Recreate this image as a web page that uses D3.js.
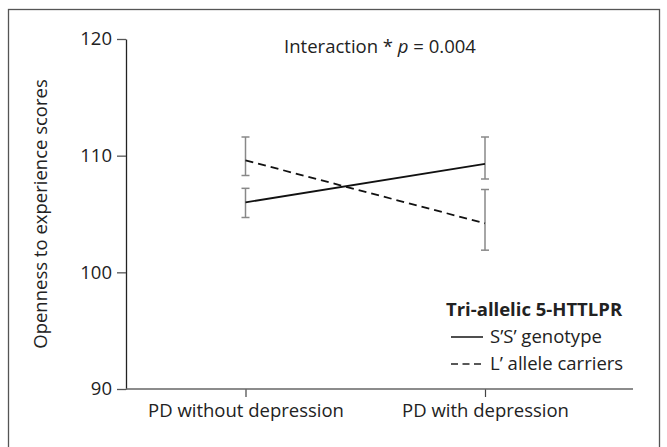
<!DOCTYPE html>
<html>
<head>
<meta charset="utf-8">
<script src="https://cdn.jsdelivr.net/npm/d3@7"></script>
<style>
  html, body { margin: 0; padding: 0; background: #fff; }
  svg text { font-family: "Open Sans", "Noto Sans", sans-serif; fill: #222; }
</style>
</head>
<body>
<svg id="chart" width="667" height="447"></svg>
<script>
const categories = ["PD without depression", "PD with depression"];
const yTicks = [90, 100, 110, 120];
const ssMean  = [106.0, 109.3];
const ssUpper = [107.2, 111.6];
const ssLower = [104.7, 108.0];
const lMean   = [109.6, 104.2];
const lUpper  = [111.6, 107.1];
const lLower  = [108.3, 101.9];
const seriesNames = ["S\u2019S\u2019 genotype", "L\u2019 allele carriers"];
const legendTitle = "Tri-allelic 5-HTTLPR";

const FS = 18.5;
const svg = d3.select("#chart");

// frame
svg.append("rect")
  .attr("x", 8.5).attr("y", 9.5).attr("width", 651).attr("height", 445)
  .attr("fill", "none").attr("stroke", "#555").attr("stroke-width", 1.3);

const axisX0 = 126, axisX1 = 633;
const y = d3.scaleLinear().domain([90, 120]).range([389, 39]);
const x = d3.scalePoint().domain(categories).range([245.5, 485]);

// y axis
const yAxis = svg.append("g")
  .attr("transform", `translate(${axisX0},0)`)
  .call(d3.axisLeft(y).tickValues(yTicks).tickSize(9).tickPadding(5).tickSizeOuter(0));
yAxis.select(".domain").attr("stroke", "#222").attr("stroke-width", 1.3);
yAxis.selectAll(".tick line").attr("stroke", "#555").attr("stroke-width", 1.3);
yAxis.selectAll(".tick text").attr("font-size", FS).style("fill", "#222");

// x axis
const xAxis = svg.append("g")
  .attr("transform", `translate(0,${y(90)})`)
  .call(d3.axisBottom(x).tickSize(8).tickPadding(7).tickSizeOuter(0));
xAxis.select(".domain").remove();
xAxis.append("line").attr("x1", axisX0).attr("x2", axisX1)
  .attr("stroke", "#666").attr("stroke-width", 1.5);
xAxis.selectAll(".tick line").attr("stroke", "#444").attr("stroke-width", 1.2);
xAxis.selectAll(".tick text").attr("font-size", FS).style("fill", "#222");

// y axis title
svg.append("text")
  .attr("transform", `translate(47,${y(105)}) rotate(-90)`)
  .attr("text-anchor", "middle").attr("font-size", FS)
  .text("Openness to experience scores");

// annotation
const ann = svg.append("text").attr("x", 380).attr("y", 53)
  .attr("text-anchor", "middle").attr("font-size", FS);
ann.append("tspan").text("Interaction * ");
ann.append("tspan").attr("font-style", "italic").text("p");
ann.append("tspan").text(" = 0.004");

// error bars
function errBars(upper, lower) {
  categories.forEach((c, i) => {
    const g = svg.append("g").attr("stroke", "#888").attr("stroke-width", 1.5);
    g.append("line").attr("x1", x(c)).attr("x2", x(c))
      .attr("y1", y(upper[i])).attr("y2", y(lower[i]));
    [upper[i], lower[i]].forEach(v => {
      g.append("line").attr("x1", x(c) - 4).attr("x2", x(c) + 4)
        .attr("y1", y(v)).attr("y2", y(v));
    });
  });
}
errBars(ssUpper, ssLower);
errBars(lUpper, lLower);

const line = d3.line().x((d, i) => x(categories[i])).y(d => y(d));
svg.append("path").datum(ssMean).attr("d", line)
  .attr("fill", "none").attr("stroke", "#111").attr("stroke-width", 1.8);
svg.append("path").datum(lMean).attr("d", line)
  .attr("fill", "none").attr("stroke", "#111").attr("stroke-width", 1.8)
  .attr("stroke-dasharray", "8,5");

// legend
svg.append("text").attr("x", 446).attr("y", 316)
  .attr("font-size", FS).attr("font-weight", "bold").text(legendTitle);
const legY = [337, 364];
const dashes = [null, "7,4.5"];
seriesNames.forEach((n, i) => {
  const l = svg.append("line").attr("x1", 451).attr("x2", 483)
    .attr("y1", legY[i]).attr("y2", legY[i])
    .attr("stroke", "#222").attr("stroke-width", 1.6);
  if (dashes[i]) l.attr("stroke-dasharray", dashes[i]);
  svg.append("text").attr("x", 490).attr("y", legY[i] + 6)
    .attr("font-size", FS).text(n);
});
</script>
</body>
</html>
